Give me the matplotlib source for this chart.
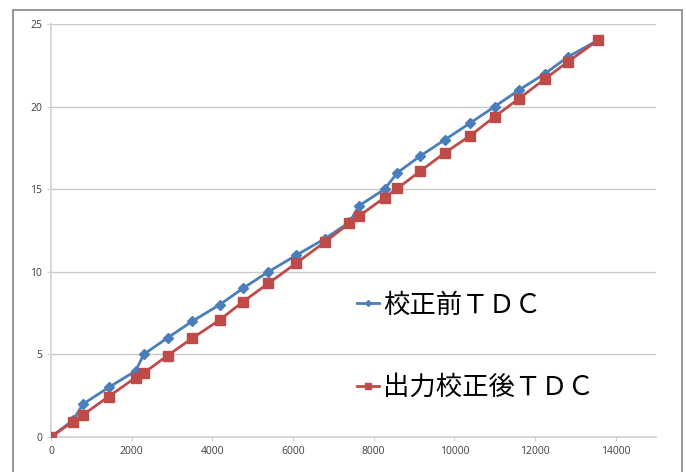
import matplotlib
matplotlib.use("Agg")
import matplotlib.pyplot as plt
from matplotlib.patches import Rectangle

# counts vs TDC output, before / after calibration
counts = [0, 540, 800, 1430, 2100, 2300, 2890, 3500, 4180, 4760, 5390, 6080,
          6790, 7400, 7640, 8270, 8590, 9150, 9770, 10390, 11000, 11600,
          12250, 12810, 13550]
tdc_before = [0, 1, 2, 3, 4, 5, 6, 7, 8, 9, 10, 11, 12, 13, 14, 15, 16, 17,
              18, 19, 20, 21, 22, 23, 24]
tdc_after = [0, 0.93, 1.35, 2.45, 3.6, 3.87, 4.93, 5.97, 7.08, 8.19, 9.3,
             10.52, 11.8, 12.94, 13.38, 14.49, 15.05, 16.08, 17.21, 18.23,
             19.39, 20.48, 21.68, 22.7, 24.0]
labels = ["校正前ＴＤＣ", "出力校正後ＴＤＣ"]

plt.rcParams['font.family'] = ['Noto Sans CJK JP', 'DejaVu Sans']

fig = plt.figure(figsize=(6.86, 4.72), dpi=100)
ax = fig.add_axes([0.0743, 0.0742, 0.882, 0.875])

# outer chart frame
fig.patches.append(Rectangle((13 / 686, -0.05), (682 - 13) / 686, 1 - 10 / 472 + 0.05,
                             transform=fig.transFigure, fill=False,
                             edgecolor='#868686', lw=1.2))

ax.plot(counts, tdc_before, color='#4a7ebb', lw=2, marker='D', ms=5,
        label=labels[0], zorder=3)
ax.plot(counts, tdc_after, color='#be4b48', lw=2, marker='s', ms=7,
        label=labels[1], zorder=4)

ax.set_xlim(0, 15000)
ax.set_ylim(0, 25)
ax.set_xticks(range(0, 15000, 2000))
ax.set_yticks(range(0, 26, 5))
ax.grid(axis='y', color='#c8c8c8', lw=1)
ax.set_axisbelow(True)
for s in ['top', 'right']:
    ax.spines[s].set_visible(False)
for s in ['left', 'bottom']:
    ax.spines[s].set_color('#d0d0d0')
    ax.spines[s].set_linewidth(1.2)
ax.tick_params(axis='both', colors='#d0d0d0', labelcolor='#404040',
               labelsize=7.5, length=3)
for t in ax.get_xticklabels() + ax.get_yticklabels():
    t.set_family(['Open Sans', 'DejaVu Sans'])

ax.legend(loc='center left', bbox_to_anchor=(0.484, 0.22), frameon=False,
          fontsize=19, borderpad=0, handlelength=0.85, handletextpad=0.15,
          labelspacing=2.1, markerscale=0.6)

plt.savefig("out.png", dpi=100)
